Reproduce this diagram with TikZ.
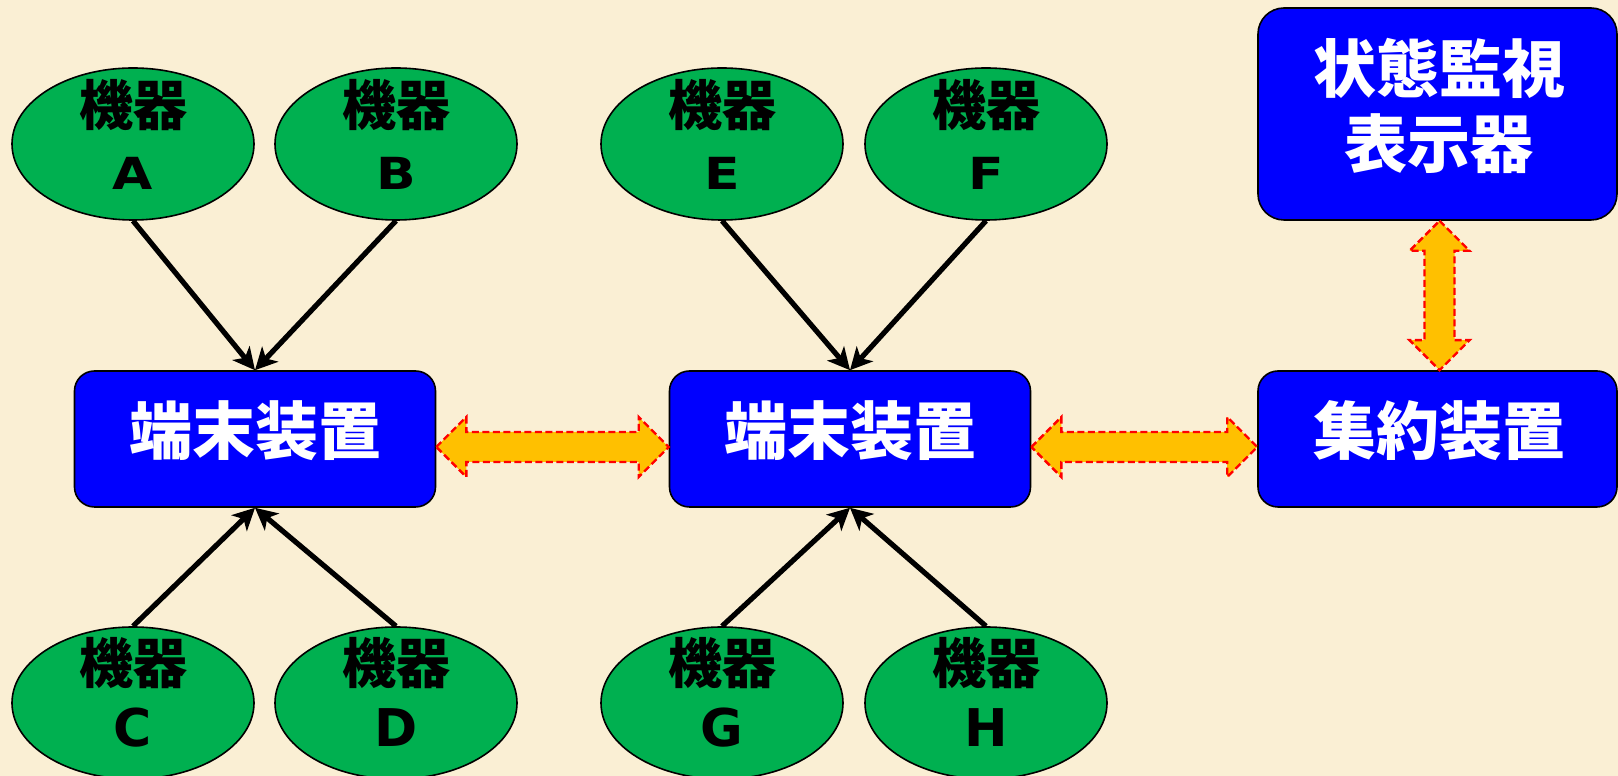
\documentclass[tikz,border=0pt]{standalone}
\usepackage{fontspec}
\usepackage{graphicx}
\usetikzlibrary{arrows.meta,calc,shapes.geometric}
\newfontfamily\cjk{Noto Sans CJK JP Black}
\newfontfamily\lat{DejaVu Sans}
\definecolor{bgc}{RGB}{250,239,212}
\definecolor{devgreen}{RGB}{0,176,80}
\definecolor{boxblue}{RGB}{0,0,255}
\definecolor{fatfill}{RGB}{255,192,0}
\tikzset{
  dev/.style={ellipse, draw=black, line width=1.6pt, fill=devgreen, minimum width=242pt, minimum height=152pt, inner sep=0pt},
  unit/.style={draw=black, line width=1.6pt, fill=boxblue, rounded corners=20pt, minimum width=361pt, minimum height=136pt, inner sep=0pt},
  cjklbl/.style={anchor=base, inner sep=0pt, font=\cjk\fontsize{54}{60}\selectfont},
  latlbl/.style={anchor=base, inner sep=0pt, font=\lat\bfseries\fontsize{52}{60}\selectfont},
  boxlbl/.style={anchor=base, inner sep=0pt, text=white, font=\cjk\fontsize{63}{70}\selectfont},
  link/.style={line width=5.2pt, -{Stealth[length=22pt,width=22pt,inset=6pt]}},
  fat/.style={draw=red, line width=2.4pt, dash pattern=on 7pt off 3.5pt, fill=fatfill, line join=miter}
}
\begin{document}
\begin{tikzpicture}[x=1pt,y=1pt]
\fill[bgc] (0,0) rectangle (1618,776);
\useasboundingbox (0,0) rectangle (1618,776);
% devices
\node[dev] (eA) at (133,632) {};
\node[dev] (eB) at (396,632) {};
\node[dev] (eE) at (722,632) {};
\node[dev] (eF) at (986,632) {};
\node[dev] (eC) at (133,73) {};
\node[dev] (eD) at (396,73) {};
\node[dev] (eG) at (722,73) {};
\node[dev] (eH) at (986,73) {};
\foreach \n/\x/\l in {A/133/A,B/396/B,E/722/E,F/986/F}{
  \node[cjklbl] (k\n) at (\x,650) {機器};
  \node[latlbl] (l\n) at (\x,586) {\scalebox{1}[0.85]{\l}};
}
\foreach \n/\x/\l in {C/133/C,D/396/D,G/722/G,H/986/H}{
  \node[cjklbl] (k\n) at (\x,92) {機器};
  \node[latlbl] (l\n) at (\x,29) {\l};
}
% boxes
\node[unit] (t1) at (255,337) {};
\node[unit] (t2) at (850,337) {};
\node[unit, minimum width=359pt] (agg) at (1437.5,337) {};
\node[unit, minimum width=359pt, minimum height=212pt, rounded corners=26pt] (mon) at (1437.5,662) {};
\node[boxlbl] (t1l) at (255,321) {端末装置};
\node[boxlbl] (t2l) at (850,321) {端末装置};
\node[boxlbl] (aggl) at (1439,321) {集約装置};
\node[boxlbl] (monl1) at (1439,683) {状態監視};
\node[boxlbl] (monl2) at (1439,608) {表示器};
% links
\draw[link] (eA.south) -- (t1.north);
\draw[link] (eB.south) -- (t1.north);
\draw[link] (eC.north) -- (t1.south);
\draw[link] (eD.north) -- (t1.south);
\draw[link] (eE.south) -- (t2.north);
\draw[link] (eF.south) -- (t2.north);
\draw[link] (eG.north) -- (t2.south);
\draw[link] (eH.north) -- (t2.south);
% fat double arrows
\path[fat] let \p1=([yshift=-8pt]t1.east), \p2=([yshift=-8pt]t2.west) in
  (\p1) -- (\x1+30pt,\y1+30pt) -- (\x1+30pt,\y1+15pt) -- (\x2-30pt,\y2+15pt) -- (\x2-30pt,\y2+30pt) -- (\p2)
  -- (\x2-30pt,\y2-30pt) -- (\x2-30pt,\y2-15pt) -- (\x1+30pt,\y1-15pt) -- (\x1+30pt,\y1-30pt) -- cycle;
\path[fat] let \p1=([yshift=-8pt]t2.east), \p2=([yshift=-8pt]agg.west) in
  (\p1) -- (\x1+30pt,\y1+30pt) -- (\x1+30pt,\y1+15pt) -- (\x2-30pt,\y2+15pt) -- (\x2-30pt,\y2+30pt) -- (\p2)
  -- (\x2-30pt,\y2-30pt) -- (\x2-30pt,\y2-15pt) -- (\x1+30pt,\y1-15pt) -- (\x1+30pt,\y1-30pt) -- cycle;
\path[fat] let \p1=([xshift=2pt]mon.south), \p2=([xshift=2pt]agg.north) in
  (\p1) -- (\x1+30pt,\y1-30pt) -- (\x1+15pt,\y1-30pt) -- (\x2+15pt,\y2+30pt) -- (\x2+30pt,\y2+30pt) -- (\p2)
  -- (\x2-30pt,\y2+30pt) -- (\x2-15pt,\y2+30pt) -- (\x1-15pt,\y1-30pt) -- (\x1-30pt,\y1-30pt) -- cycle;
\end{tikzpicture}
\end{document}
